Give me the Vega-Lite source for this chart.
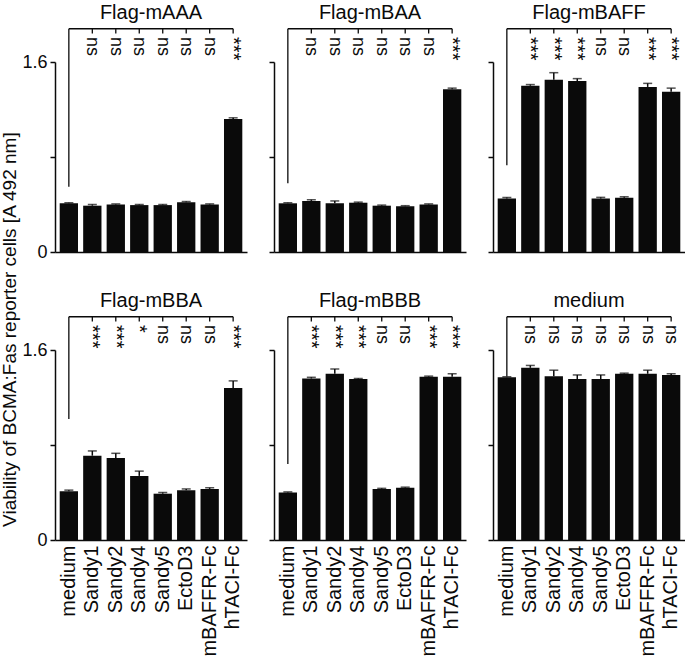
{
  "$schema": "https://vega.github.io/schema/vega-lite/v6.json",
  "padding": {"left": 0, "top": 3, "right": 0, "bottom": 0},
  "title": {"text": "Viability of BCMA:Fas reporter cells [A 492 nm]", "orient": "left", "anchor": "middle", "fontSize": 19, "fontWeight": "normal", "font": "Liberation Sans", "offset": 2, "dx": 0, "color": "#0a0a0a"},
  "datasets": {
    "bars": [
      {"panel": "Flag-mAAA", "cond": "medium", "value": 0.41, "upper": 0.415, "sig": ""},
      {"panel": "Flag-mAAA", "cond": "Sandy1", "value": 0.39, "upper": 0.40, "sig": "ns"},
      {"panel": "Flag-mAAA", "cond": "Sandy2", "value": 0.40, "upper": 0.405, "sig": "ns"},
      {"panel": "Flag-mAAA", "cond": "Sandy4", "value": 0.395, "upper": 0.40, "sig": "ns"},
      {"panel": "Flag-mAAA", "cond": "Sandy5", "value": 0.395, "upper": 0.40, "sig": "ns"},
      {"panel": "Flag-mAAA", "cond": "EctoD3", "value": 0.42, "upper": 0.425, "sig": "ns"},
      {"panel": "Flag-mAAA", "cond": "mBAFFR-Fc", "value": 0.40, "upper": 0.405, "sig": "ns"},
      {"panel": "Flag-mAAA", "cond": "hTACI-Fc", "value": 1.12, "upper": 1.13, "sig": "***"},
      {"panel": "Flag-mBAA", "cond": "medium", "value": 0.41, "upper": 0.415, "sig": ""},
      {"panel": "Flag-mBAA", "cond": "Sandy1", "value": 0.43, "upper": 0.44, "sig": "ns"},
      {"panel": "Flag-mBAA", "cond": "Sandy2", "value": 0.41, "upper": 0.43, "sig": "ns"},
      {"panel": "Flag-mBAA", "cond": "Sandy4", "value": 0.415, "upper": 0.42, "sig": "ns"},
      {"panel": "Flag-mBAA", "cond": "Sandy5", "value": 0.39, "upper": 0.395, "sig": "ns"},
      {"panel": "Flag-mBAA", "cond": "EctoD3", "value": 0.385, "upper": 0.39, "sig": "ns"},
      {"panel": "Flag-mBAA", "cond": "mBAFFR-Fc", "value": 0.40, "upper": 0.405, "sig": "ns"},
      {"panel": "Flag-mBAA", "cond": "hTACI-Fc", "value": 1.37, "upper": 1.38, "sig": "***"},
      {"panel": "Flag-mBAFF", "cond": "medium", "value": 0.45, "upper": 0.46, "sig": ""},
      {"panel": "Flag-mBAFF", "cond": "Sandy1", "value": 1.40, "upper": 1.41, "sig": "***"},
      {"panel": "Flag-mBAFF", "cond": "Sandy2", "value": 1.45, "upper": 1.51, "sig": "***"},
      {"panel": "Flag-mBAFF", "cond": "Sandy4", "value": 1.44, "upper": 1.46, "sig": "***"},
      {"panel": "Flag-mBAFF", "cond": "Sandy5", "value": 0.45, "upper": 0.46, "sig": "ns"},
      {"panel": "Flag-mBAFF", "cond": "EctoD3", "value": 0.457, "upper": 0.465, "sig": "ns"},
      {"panel": "Flag-mBAFF", "cond": "mBAFFR-Fc", "value": 1.39, "upper": 1.42, "sig": "***"},
      {"panel": "Flag-mBAFF", "cond": "hTACI-Fc", "value": 1.35, "upper": 1.38, "sig": "***"},
      {"panel": "Flag-mBBA", "cond": "medium", "value": 0.41, "upper": 0.42, "sig": ""},
      {"panel": "Flag-mBBA", "cond": "Sandy1", "value": 0.71, "upper": 0.75, "sig": "***"},
      {"panel": "Flag-mBBA", "cond": "Sandy2", "value": 0.69, "upper": 0.73, "sig": "***"},
      {"panel": "Flag-mBBA", "cond": "Sandy4", "value": 0.54, "upper": 0.58, "sig": "*"},
      {"panel": "Flag-mBBA", "cond": "Sandy5", "value": 0.39, "upper": 0.40, "sig": "ns"},
      {"panel": "Flag-mBBA", "cond": "EctoD3", "value": 0.42, "upper": 0.43, "sig": "ns"},
      {"panel": "Flag-mBBA", "cond": "mBAFFR-Fc", "value": 0.43, "upper": 0.44, "sig": "ns"},
      {"panel": "Flag-mBBA", "cond": "hTACI-Fc", "value": 1.28, "upper": 1.34, "sig": "***"},
      {"panel": "Flag-mBBB", "cond": "medium", "value": 0.40, "upper": 0.405, "sig": ""},
      {"panel": "Flag-mBBB", "cond": "Sandy1", "value": 1.36, "upper": 1.37, "sig": "***"},
      {"panel": "Flag-mBBB", "cond": "Sandy2", "value": 1.40, "upper": 1.44, "sig": "***"},
      {"panel": "Flag-mBBB", "cond": "Sandy4", "value": 1.355, "upper": 1.36, "sig": "***"},
      {"panel": "Flag-mBBB", "cond": "Sandy5", "value": 0.43, "upper": 0.435, "sig": "ns"},
      {"panel": "Flag-mBBB", "cond": "EctoD3", "value": 0.44, "upper": 0.445, "sig": "ns"},
      {"panel": "Flag-mBBB", "cond": "mBAFFR-Fc", "value": 1.375, "upper": 1.38, "sig": "***"},
      {"panel": "Flag-mBBB", "cond": "hTACI-Fc", "value": 1.375, "upper": 1.40, "sig": "***"},
      {"panel": "medium", "cond": "medium", "value": 1.37, "upper": 1.375, "sig": ""},
      {"panel": "medium", "cond": "Sandy1", "value": 1.45, "upper": 1.47, "sig": "ns"},
      {"panel": "medium", "cond": "Sandy2", "value": 1.38, "upper": 1.43, "sig": "ns"},
      {"panel": "medium", "cond": "Sandy4", "value": 1.355, "upper": 1.39, "sig": "ns"},
      {"panel": "medium", "cond": "Sandy5", "value": 1.355, "upper": 1.39, "sig": "ns"},
      {"panel": "medium", "cond": "EctoD3", "value": 1.40, "upper": 1.405, "sig": "ns"},
      {"panel": "medium", "cond": "mBAFFR-Fc", "value": 1.40, "upper": 1.43, "sig": "ns"},
      {"panel": "medium", "cond": "hTACI-Fc", "value": 1.39, "upper": 1.40, "sig": "ns"}
    ],
    "brackets": [
      {"panel": "Flag-mAAA", "drop": 0.55},
      {"panel": "Flag-mBAA", "drop": 0.58},
      {"panel": "Flag-mBAFF", "drop": 0.73},
      {"panel": "Flag-mBBA", "drop": 1.02},
      {"panel": "Flag-mBBB", "drop": 0.64},
      {"panel": "medium", "drop": 1.38}
    ]
  },
  "spacing": 30,
  "vconcat": [
    {"spacing": 21, "hconcat": [
      {"title": "Flag-mAAA", "width": 192, "height": 190, "data": {"name": "bars"}, "transform": [{"filter": "datum.panel == 'Flag-mAAA'"}],
       "layer": [
        {"mark": {"type": "bar", "color": "#0a0a0a"}, "encoding": {
          "x": {"field": "cond", "type": "nominal", "sort": null, "title": null, "scale": {"domain": ["medium","Sandy1","Sandy2","Sandy4","Sandy5","EctoD3","mBAFFR-Fc","hTACI-Fc"], "paddingInner": 0.22, "paddingOuter": 0.2}, "axis": {"labels": false, "ticks": false}},
          "y": {"field": "value", "type": "quantitative", "title": null, "scale": {"domain": [0, 1.6], "nice": false}, "axis": {"values": [0, 0.8, 1.6], "labelExpr": "datum.value == 0.8 ? '' : format(datum.value, '~g')"}}}},
        {"mark": {"type": "rule", "color": "#0a0a0a", "strokeWidth": 1.5}, "encoding": {"x": {"field": "cond", "type": "nominal", "title": null}, "y": {"field": "value", "type": "quantitative", "title": null}, "y2": {"field": "upper"}}},
        {"mark": {"type": "tick", "color": "#0a0a0a", "size": 9, "thickness": 1.5}, "encoding": {"x": {"field": "cond", "type": "nominal", "title": null}, "y": {"field": "upper", "type": "quantitative", "title": null}}},
        {"transform": [{"filter": "datum.cond == 'medium'"}], "mark": {"type": "rule", "color": "#0a0a0a", "strokeWidth": 1.3}, "encoding": {"x": {"datum": "medium"}, "x2": {"datum": "hTACI-Fc"}, "y": {"datum": 1.88}}},
        {"transform": [{"filter": "datum.cond != 'medium'"}], "mark": {"type": "rule", "color": "#0a0a0a", "strokeWidth": 1.3}, "encoding": {"x": {"field": "cond", "type": "nominal", "title": null}, "y": {"datum": 1.88}, "y2": {"datum": 1.84}}},
        {"data": {"name": "brackets"}, "transform": [{"filter": "datum.panel == 'Flag-mAAA'"}], "mark": {"type": "rule", "color": "#0a0a0a", "strokeWidth": 1.3}, "encoding": {"x": {"datum": "medium"}, "y": {"field": "drop", "type": "quantitative", "title": null}, "y2": {"datum": 1.88}}},
        {"transform": [{"filter": "datum.cond != 'medium'"}], "mark": {"type": "text", "angle": 90, "align": "left", "baseline": "middle", "font": "Liberation Sans", "color": "#0a0a0a"}, "encoding": {"x": {"field": "cond", "type": "nominal", "title": null}, "y": {"datum": 1.81}, "text": {"field": "sig"}, "size": {"condition": {"test": "datum.sig == 'ns'", "value": 18}, "value": 20}}}
       ]},
      {"title": "Flag-mBAA", "width": 192, "height": 190, "data": {"name": "bars"}, "transform": [{"filter": "datum.panel == 'Flag-mBAA'"}],
       "layer": [
        {"mark": {"type": "bar", "color": "#0a0a0a"}, "encoding": {
          "x": {"field": "cond", "type": "nominal", "sort": null, "title": null, "scale": {"domain": ["medium","Sandy1","Sandy2","Sandy4","Sandy5","EctoD3","mBAFFR-Fc","hTACI-Fc"], "paddingInner": 0.22, "paddingOuter": 0.2}, "axis": {"labels": false, "ticks": false}},
          "y": {"field": "value", "type": "quantitative", "title": null, "scale": {"domain": [0, 1.6], "nice": false}, "axis": {"values": [0, 0.8, 1.6], "labels": false}}}},
        {"mark": {"type": "rule", "color": "#0a0a0a", "strokeWidth": 1.5}, "encoding": {"x": {"field": "cond", "type": "nominal", "title": null}, "y": {"field": "value", "type": "quantitative", "title": null}, "y2": {"field": "upper"}}},
        {"mark": {"type": "tick", "color": "#0a0a0a", "size": 9, "thickness": 1.5}, "encoding": {"x": {"field": "cond", "type": "nominal", "title": null}, "y": {"field": "upper", "type": "quantitative", "title": null}}},
        {"transform": [{"filter": "datum.cond == 'medium'"}], "mark": {"type": "rule", "color": "#0a0a0a", "strokeWidth": 1.3}, "encoding": {"x": {"datum": "medium"}, "x2": {"datum": "hTACI-Fc"}, "y": {"datum": 1.88}}},
        {"transform": [{"filter": "datum.cond != 'medium'"}], "mark": {"type": "rule", "color": "#0a0a0a", "strokeWidth": 1.3}, "encoding": {"x": {"field": "cond", "type": "nominal", "title": null}, "y": {"datum": 1.88}, "y2": {"datum": 1.84}}},
        {"data": {"name": "brackets"}, "transform": [{"filter": "datum.panel == 'Flag-mBAA'"}], "mark": {"type": "rule", "color": "#0a0a0a", "strokeWidth": 1.3}, "encoding": {"x": {"datum": "medium"}, "y": {"field": "drop", "type": "quantitative", "title": null}, "y2": {"datum": 1.88}}},
        {"transform": [{"filter": "datum.cond != 'medium'"}], "mark": {"type": "text", "angle": 90, "align": "left", "baseline": "middle", "font": "Liberation Sans", "color": "#0a0a0a"}, "encoding": {"x": {"field": "cond", "type": "nominal", "title": null}, "y": {"datum": 1.81}, "text": {"field": "sig"}, "size": {"condition": {"test": "datum.sig == 'ns'", "value": 18}, "value": 20}}}
       ]},
      {"title": "Flag-mBAFF", "width": 192, "height": 190, "data": {"name": "bars"}, "transform": [{"filter": "datum.panel == 'Flag-mBAFF'"}],
       "layer": [
        {"mark": {"type": "bar", "color": "#0a0a0a"}, "encoding": {
          "x": {"field": "cond", "type": "nominal", "sort": null, "title": null, "scale": {"domain": ["medium","Sandy1","Sandy2","Sandy4","Sandy5","EctoD3","mBAFFR-Fc","hTACI-Fc"], "paddingInner": 0.22, "paddingOuter": 0.2}, "axis": {"labels": false, "ticks": false}},
          "y": {"field": "value", "type": "quantitative", "title": null, "scale": {"domain": [0, 1.6], "nice": false}, "axis": {"values": [0, 0.8, 1.6], "labels": false}}}},
        {"mark": {"type": "rule", "color": "#0a0a0a", "strokeWidth": 1.5}, "encoding": {"x": {"field": "cond", "type": "nominal", "title": null}, "y": {"field": "value", "type": "quantitative", "title": null}, "y2": {"field": "upper"}}},
        {"mark": {"type": "tick", "color": "#0a0a0a", "size": 9, "thickness": 1.5}, "encoding": {"x": {"field": "cond", "type": "nominal", "title": null}, "y": {"field": "upper", "type": "quantitative", "title": null}}},
        {"transform": [{"filter": "datum.cond == 'medium'"}], "mark": {"type": "rule", "color": "#0a0a0a", "strokeWidth": 1.3}, "encoding": {"x": {"datum": "medium"}, "x2": {"datum": "hTACI-Fc"}, "y": {"datum": 1.88}}},
        {"transform": [{"filter": "datum.cond != 'medium'"}], "mark": {"type": "rule", "color": "#0a0a0a", "strokeWidth": 1.3}, "encoding": {"x": {"field": "cond", "type": "nominal", "title": null}, "y": {"datum": 1.88}, "y2": {"datum": 1.84}}},
        {"data": {"name": "brackets"}, "transform": [{"filter": "datum.panel == 'Flag-mBAFF'"}], "mark": {"type": "rule", "color": "#0a0a0a", "strokeWidth": 1.3}, "encoding": {"x": {"datum": "medium"}, "y": {"field": "drop", "type": "quantitative", "title": null}, "y2": {"datum": 1.88}}},
        {"transform": [{"filter": "datum.cond != 'medium'"}], "mark": {"type": "text", "angle": 90, "align": "left", "baseline": "middle", "font": "Liberation Sans", "color": "#0a0a0a"}, "encoding": {"x": {"field": "cond", "type": "nominal", "title": null}, "y": {"datum": 1.81}, "text": {"field": "sig"}, "size": {"condition": {"test": "datum.sig == 'ns'", "value": 18}, "value": 20}}}
       ]}
    ]},
    {"spacing": 21, "hconcat": [
      {"title": "Flag-mBBA", "width": 192, "height": 190, "data": {"name": "bars"}, "transform": [{"filter": "datum.panel == 'Flag-mBBA'"}],
       "layer": [
        {"mark": {"type": "bar", "color": "#0a0a0a"}, "encoding": {
          "x": {"field": "cond", "type": "nominal", "sort": null, "title": null, "scale": {"domain": ["medium","Sandy1","Sandy2","Sandy4","Sandy5","EctoD3","mBAFFR-Fc","hTACI-Fc"], "paddingInner": 0.22, "paddingOuter": 0.2}, "axis": {"labelAngle": -90, "ticks": false}},
          "y": {"field": "value", "type": "quantitative", "title": null, "scale": {"domain": [0, 1.6], "nice": false}, "axis": {"values": [0, 0.8, 1.6], "labelExpr": "datum.value == 0.8 ? '' : format(datum.value, '~g')"}}}},
        {"mark": {"type": "rule", "color": "#0a0a0a", "strokeWidth": 1.5}, "encoding": {"x": {"field": "cond", "type": "nominal", "title": null}, "y": {"field": "value", "type": "quantitative", "title": null}, "y2": {"field": "upper"}}},
        {"mark": {"type": "tick", "color": "#0a0a0a", "size": 9, "thickness": 1.5}, "encoding": {"x": {"field": "cond", "type": "nominal", "title": null}, "y": {"field": "upper", "type": "quantitative", "title": null}}},
        {"transform": [{"filter": "datum.cond == 'medium'"}], "mark": {"type": "rule", "color": "#0a0a0a", "strokeWidth": 1.3}, "encoding": {"x": {"datum": "medium"}, "x2": {"datum": "hTACI-Fc"}, "y": {"datum": 1.88}}},
        {"transform": [{"filter": "datum.cond != 'medium'"}], "mark": {"type": "rule", "color": "#0a0a0a", "strokeWidth": 1.3}, "encoding": {"x": {"field": "cond", "type": "nominal", "title": null}, "y": {"datum": 1.88}, "y2": {"datum": 1.84}}},
        {"data": {"name": "brackets"}, "transform": [{"filter": "datum.panel == 'Flag-mBBA'"}], "mark": {"type": "rule", "color": "#0a0a0a", "strokeWidth": 1.3}, "encoding": {"x": {"datum": "medium"}, "y": {"field": "drop", "type": "quantitative", "title": null}, "y2": {"datum": 1.88}}},
        {"transform": [{"filter": "datum.cond != 'medium'"}], "mark": {"type": "text", "angle": 90, "align": "left", "baseline": "middle", "font": "Liberation Sans", "color": "#0a0a0a"}, "encoding": {"x": {"field": "cond", "type": "nominal", "title": null}, "y": {"datum": 1.81}, "text": {"field": "sig"}, "size": {"condition": {"test": "datum.sig == 'ns'", "value": 18}, "value": 20}}}
       ]},
      {"title": "Flag-mBBB", "width": 192, "height": 190, "data": {"name": "bars"}, "transform": [{"filter": "datum.panel == 'Flag-mBBB'"}],
       "layer": [
        {"mark": {"type": "bar", "color": "#0a0a0a"}, "encoding": {
          "x": {"field": "cond", "type": "nominal", "sort": null, "title": null, "scale": {"domain": ["medium","Sandy1","Sandy2","Sandy4","Sandy5","EctoD3","mBAFFR-Fc","hTACI-Fc"], "paddingInner": 0.22, "paddingOuter": 0.2}, "axis": {"labelAngle": -90, "ticks": false}},
          "y": {"field": "value", "type": "quantitative", "title": null, "scale": {"domain": [0, 1.6], "nice": false}, "axis": {"values": [0, 0.8, 1.6], "labels": false}}}},
        {"mark": {"type": "rule", "color": "#0a0a0a", "strokeWidth": 1.5}, "encoding": {"x": {"field": "cond", "type": "nominal", "title": null}, "y": {"field": "value", "type": "quantitative", "title": null}, "y2": {"field": "upper"}}},
        {"mark": {"type": "tick", "color": "#0a0a0a", "size": 9, "thickness": 1.5}, "encoding": {"x": {"field": "cond", "type": "nominal", "title": null}, "y": {"field": "upper", "type": "quantitative", "title": null}}},
        {"transform": [{"filter": "datum.cond == 'medium'"}], "mark": {"type": "rule", "color": "#0a0a0a", "strokeWidth": 1.3}, "encoding": {"x": {"datum": "medium"}, "x2": {"datum": "hTACI-Fc"}, "y": {"datum": 1.88}}},
        {"transform": [{"filter": "datum.cond != 'medium'"}], "mark": {"type": "rule", "color": "#0a0a0a", "strokeWidth": 1.3}, "encoding": {"x": {"field": "cond", "type": "nominal", "title": null}, "y": {"datum": 1.88}, "y2": {"datum": 1.84}}},
        {"data": {"name": "brackets"}, "transform": [{"filter": "datum.panel == 'Flag-mBBB'"}], "mark": {"type": "rule", "color": "#0a0a0a", "strokeWidth": 1.3}, "encoding": {"x": {"datum": "medium"}, "y": {"field": "drop", "type": "quantitative", "title": null}, "y2": {"datum": 1.88}}},
        {"transform": [{"filter": "datum.cond != 'medium'"}], "mark": {"type": "text", "angle": 90, "align": "left", "baseline": "middle", "font": "Liberation Sans", "color": "#0a0a0a"}, "encoding": {"x": {"field": "cond", "type": "nominal", "title": null}, "y": {"datum": 1.81}, "text": {"field": "sig"}, "size": {"condition": {"test": "datum.sig == 'ns'", "value": 18}, "value": 20}}}
       ]},
      {"title": "medium", "width": 192, "height": 190, "data": {"name": "bars"}, "transform": [{"filter": "datum.panel == 'medium'"}],
       "layer": [
        {"mark": {"type": "bar", "color": "#0a0a0a"}, "encoding": {
          "x": {"field": "cond", "type": "nominal", "sort": null, "title": null, "scale": {"domain": ["medium","Sandy1","Sandy2","Sandy4","Sandy5","EctoD3","mBAFFR-Fc","hTACI-Fc"], "paddingInner": 0.22, "paddingOuter": 0.2}, "axis": {"labelAngle": -90, "ticks": false}},
          "y": {"field": "value", "type": "quantitative", "title": null, "scale": {"domain": [0, 1.6], "nice": false}, "axis": {"values": [0, 0.8, 1.6], "labels": false}}}},
        {"mark": {"type": "rule", "color": "#0a0a0a", "strokeWidth": 1.5}, "encoding": {"x": {"field": "cond", "type": "nominal", "title": null}, "y": {"field": "value", "type": "quantitative", "title": null}, "y2": {"field": "upper"}}},
        {"mark": {"type": "tick", "color": "#0a0a0a", "size": 9, "thickness": 1.5}, "encoding": {"x": {"field": "cond", "type": "nominal", "title": null}, "y": {"field": "upper", "type": "quantitative", "title": null}}},
        {"transform": [{"filter": "datum.cond == 'medium'"}], "mark": {"type": "rule", "color": "#0a0a0a", "strokeWidth": 1.3}, "encoding": {"x": {"datum": "medium"}, "x2": {"datum": "hTACI-Fc"}, "y": {"datum": 1.88}}},
        {"transform": [{"filter": "datum.cond != 'medium'"}], "mark": {"type": "rule", "color": "#0a0a0a", "strokeWidth": 1.3}, "encoding": {"x": {"field": "cond", "type": "nominal", "title": null}, "y": {"datum": 1.88}, "y2": {"datum": 1.84}}},
        {"data": {"name": "brackets"}, "transform": [{"filter": "datum.panel == 'medium'"}], "mark": {"type": "rule", "color": "#0a0a0a", "strokeWidth": 1.3}, "encoding": {"x": {"datum": "medium"}, "y": {"field": "drop", "type": "quantitative", "title": null}, "y2": {"datum": 1.88}}},
        {"transform": [{"filter": "datum.cond != 'medium'"}], "mark": {"type": "text", "angle": 90, "align": "left", "baseline": "middle", "font": "Liberation Sans", "color": "#0a0a0a"}, "encoding": {"x": {"field": "cond", "type": "nominal", "title": null}, "y": {"datum": 1.81}, "text": {"field": "sig"}, "size": {"condition": {"test": "datum.sig == 'ns'", "value": 18}, "value": 20}}}
       ]}
    ]}
  ],
  "config": {
    "view": {"stroke": null},
    "font": "Liberation Sans",
    "title": {"fontSize": 20, "fontWeight": "normal", "font": "Liberation Sans", "color": "#0a0a0a", "offset": 5},
    "axis": {"grid": false, "domainColor": "#0a0a0a", "domainWidth": 1.5, "tickColor": "#0a0a0a", "tickWidth": 1.5, "tickSize": 5, "labelColor": "#0a0a0a", "labelFont": "Liberation Sans", "labelFontSize": 18, "labelPadding": 3},
    "axisX": {"labelPadding": 5, "labelFontSize": 20}
  }
}
